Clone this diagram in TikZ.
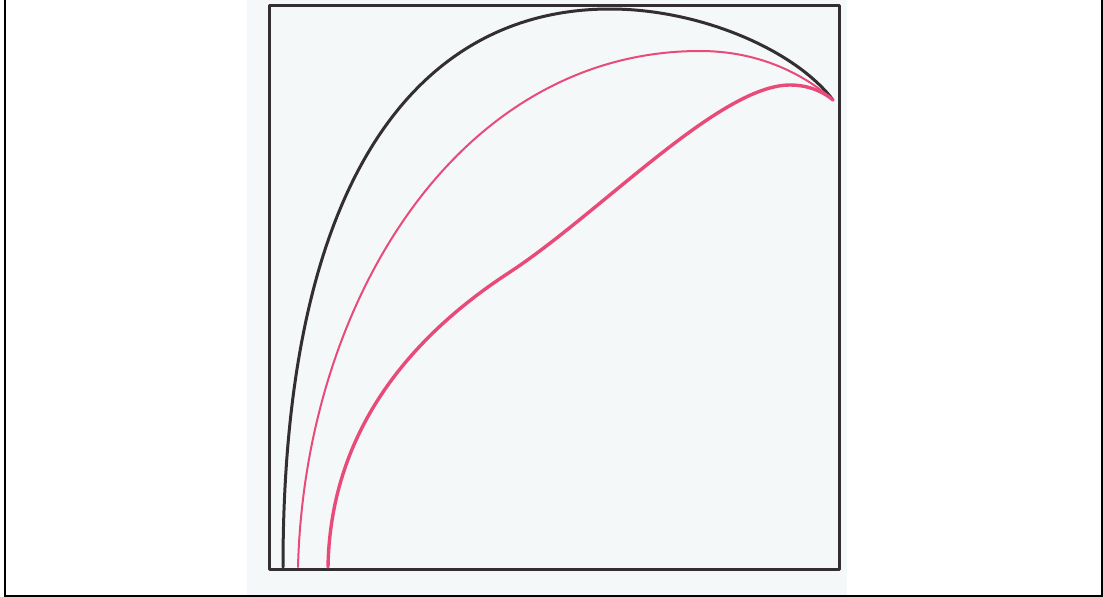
\documentclass[tikz,border=0pt]{standalone}
\definecolor{scanbg}{RGB}{245,248,248}
\definecolor{ink}{RGB}{50,46,50}
\definecolor{pinkink}{RGB}{232,74,122}
\tikzset{
  frameline/.style={draw=black, line width=2pt},
  boxline/.style={draw=ink, line width=3pt, line join=round},
  blackcurve/.style={draw=ink, line width=3pt, line cap=round},
  pinkthin/.style={draw=pinkink, line width=2pt, line cap=round},
  pinkthick/.style={draw=pinkink, line width=3.4pt, line cap=round},
}
\begin{document}
\begin{tikzpicture}[x=1pt, y=-1pt]
\useasboundingbox (0,0) rectangle (1103,597);
\fill[white] (0,0) rectangle (1103,597);
\fill[scanbg] (247,0) rectangle (847,595);
% outer frame (top edge outside the picture)
\begin{scope}
\clip (0,0) rectangle (1103,597);
\draw[frameline] (5,-5) -- (5,596) -- (1102,596) -- (1102,-5);
\end{scope}
% square
\draw[boxline] (269,5) rectangle (839,569);
% tip where the curves meet
\coordinate (tip) at (833,100);
% black curve
\draw[blackcurve] (283,567) .. controls (283,160) and (430,9) .. (610,9)
  .. controls (700,9) and (795,50) .. (tip);
% thin pink curve
\draw[pinkthin] (298,567) .. controls (305,300) and (460,51) .. (700,51)
  .. controls (760,51) and (805,75) .. (tip);
% thick pink curve
\draw[pinkthick] (328,567) .. controls (330,450) and (390,350) .. (510,272)
  .. controls (600,213) and (720,85) .. (790,85)
  .. controls (810,85) and (825,93) .. (tip);
\end{tikzpicture}
\end{document}
